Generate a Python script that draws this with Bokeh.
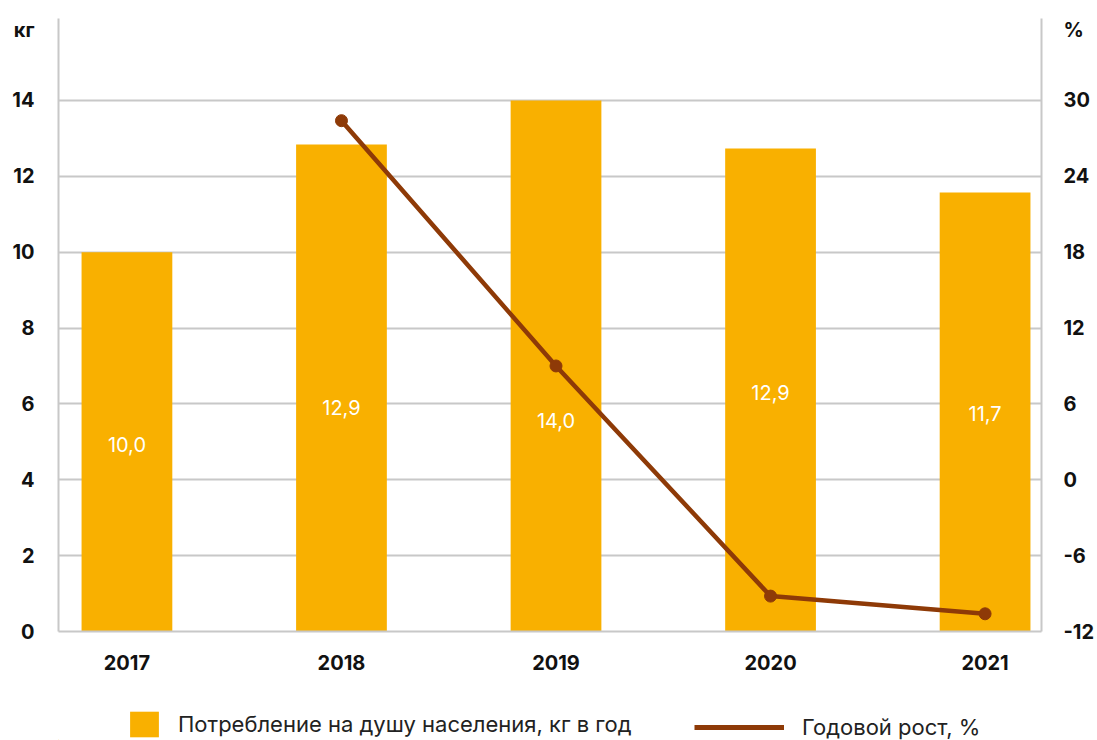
from bokeh.plotting import figure
from bokeh.layouts import column
from bokeh.models import (Range1d, LinearAxis, FixedTicker, ColumnDataSource, Legend,
                          LegendItem, CustomJSTickFormatter)
from bokeh.core.properties import value
from bokeh.embed import file_html
from bokeh.resources import INLINE

years = ["2017", "2018", "2019", "2020", "2021"]
consumption = [10.0, 12.84, 14.0, 12.73, 11.57]
consumption_labels = ["10,0", "12,9", "14,0", "12,9", "11,7"]
label_heights = [4.93, 5.9, 5.56, 6.3, 5.75]
growth_years = ["2018", "2019", "2020", "2021"]
growth = [28.4, 9.0, -9.2, -10.6]
kg_ticks = [0, 2, 4, 6, 8, 10, 12, 14]
kg_tick_labels = ["0", "2", "4", "6", "8", "10", "12", "14"]
pct_ticks = [-12, -6, 0, 6, 12, 18, 24, 30]
pct_tick_labels = ["-12", "-6", "0", "6", "12", "18", "24", "30"]
kg_unit, pct_unit = "кг", "%"
series_names = ["Потребление на душу населения, кг в год", "Годовой рост, %"]

BAR = "#F9B000"
LINE = "#8E3A07"
GRID = "#C8C8C8"
FONT = "Inter"
KG_TOP = 16.16
UNIT_POS = 15.85  # height of the unit captions on the axes

xi = list(range(len(years)))
gx = [years.index(y) for y in growth_years]

p = figure(width=1097, height=690, output_backend="svg", toolbar_location=None,
           x_range=Range1d(-0.319, 4.263), y_range=Range1d(0, KG_TOP),
           min_border_left=58, min_border_right=54, min_border_top=18, min_border_bottom=59)
p.outline_line_color = None
p.background_fill_color = "white"
p.border_fill_color = "white"
p.extra_y_ranges = {"pct": Range1d(-12, -12 + 3 * KG_TOP)}

src = ColumnDataSource(dict(x=xi, v=consumption, lab=consumption_labels, ly=label_heights))
bars = p.vbar(x="x", top="v", width=0.423, source=src, fill_color=BAR, line_color=None)
p.text(x="x", y="ly", text="lab", source=src, text_color="white", text_align="center",
       text_baseline="middle", text_font=value(FONT), text_font_size="20px", text_font_style="normal")

gsrc = ColumnDataSource(dict(x=gx, g=growth))
p.line(x="x", y="g", source=gsrc, y_range_name="pct", line_color=LINE, line_width=4.5)
p.scatter(x="x", y="g", source=gsrc, y_range_name="pct", size=12, fill_color=LINE, line_color=LINE)

# axes
xa = p.xaxis[0]
xa.ticker = FixedTicker(ticks=xi)
xa.formatter = CustomJSTickFormatter(args=dict(labels=years), code="return labels[tick] || ''")

ya = p.yaxis[0]
ya.ticker = FixedTicker(ticks=kg_ticks + [UNIT_POS])
ya.formatter = CustomJSTickFormatter(
    args=dict(t=kg_ticks, l=kg_tick_labels, u=kg_unit),
    code="const i = t.indexOf(tick); return i >= 0 ? l[i] : u;")

pct_unit_pos = -12 + 3 * UNIT_POS
ra = LinearAxis(y_range_name="pct", ticker=FixedTicker(ticks=pct_ticks + [pct_unit_pos]))
ra.formatter = CustomJSTickFormatter(
    args=dict(t=pct_ticks, l=pct_tick_labels, u=pct_unit),
    code="const i = t.indexOf(tick); return i >= 0 ? l[i] : u;")
p.add_layout(ra, "right")

for ax in [xa, ya, ra]:
    ax.major_tick_line_color = None
    ax.minor_tick_line_color = None
    ax.major_tick_out = 0
    ax.major_tick_in = 0
    ax.minor_tick_out = 0
    ax.minor_tick_in = 0
    ax.axis_line_color = GRID
    ax.axis_line_width = 2
    ax.major_label_text_font = FONT
    ax.major_label_text_font_style = "bold"
    ax.major_label_text_font_size = "20px"
    ax.major_label_text_color = "#111111"
    ax.major_label_standoff = 24
ra.major_label_standoff = 22
xa.major_label_standoff = 23

p.xgrid.grid_line_color = None
p.ygrid.grid_line_color = GRID
p.ygrid.grid_line_width = 2
p.ygrid.ticker = FixedTicker(ticks=kg_ticks)

# legend strip
lf = figure(width=1097, height=50, output_backend="svg", toolbar_location=None,
            x_range=Range1d(0, 1097), y_range=Range1d(0, 50),
            x_axis_type=None, y_axis_type=None, min_border=0)
lf.outline_line_color = None
lf.xgrid.grid_line_color = None
lf.ygrid.grid_line_color = None
lbar = lf.vbar(x=[-1000], top=[1], width=1, fill_color=BAR, line_color=None)
lline = lf.line(x=[-1000, -999], y=[0, 0], line_color=LINE, line_width=5)

OFFSET = 58  # the column aligns this strip's frame with the chart frame


def mk_legend(name, rend, loc, gw, gh, standoff):
    return Legend(items=[LegendItem(label=name, renderers=[rend])], location=loc,
                  orientation="horizontal", glyph_width=gw, glyph_height=gh,
                  label_standoff=standoff, label_text_font=FONT, label_text_font_size="22px",
                  label_text_color="#222222", label_height=gh, padding=0, margin=0, spacing=0,
                  border_line_color=None, background_fill_alpha=0)


lf.add_layout(mk_legend(series_names[0], lbar, (126 - OFFSET, 0), 36, 32, 16))
lf.add_layout(mk_legend(series_names[1], lline, (694 - OFFSET, 0), 90, 22, 18))

open("out.html", "w").write(file_html(column(p, lf, spacing=0), INLINE))
